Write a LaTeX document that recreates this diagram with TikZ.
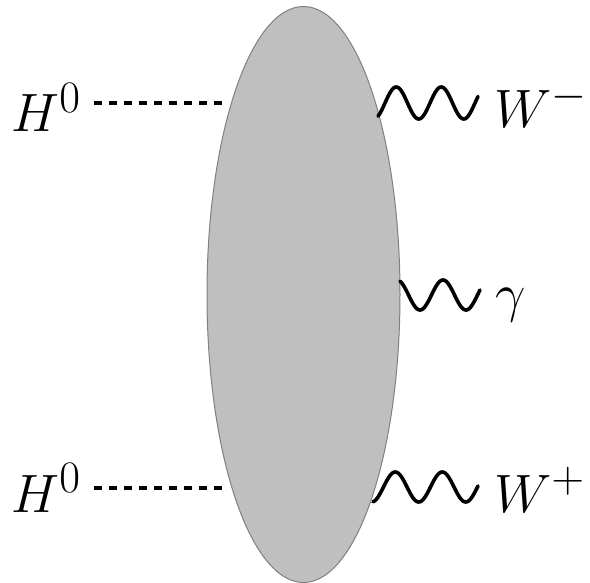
\documentclass[tikz,border=0pt]{standalone}
\usetikzlibrary{shapes.geometric}
\begin{document}
\begin{tikzpicture}[x=1pt,y=-1pt,
  lbl/.style={inner sep=0pt, anchor=base west, font=\Huge, scale=2.17},
  scalar/.style={line width=4.5pt, dash pattern=on 8pt off 7pt},
  wave/.style={line width=3.6pt, line cap=round, line join=round},
  blobstyle/.style={ellipse, draw=gray, line width=1pt, fill=gray!50, inner sep=0pt, minimum width=193pt, minimum height=576pt}]
\useasboundingbox (0,0) rectangle (590,583);
\node[blobstyle] (blob) at (303.5,294.5) {};
% labels
\node[lbl] (h1) at (11,132) {$H^0$};
\node[lbl] (h2) at (11,512) {$H^0$};
\node[lbl] (wm) at (494,128) {$W^-$};
\node[lbl] (ga) at (495,312) {$\gamma$};
\node[lbl] (wp) at (494,512) {$W^+$};
% scalar lines
\coordinate (d1) at (94,103);
\coordinate (e1) at (228,103);
\coordinate (d2) at (94,488);
\coordinate (e2) at (228,488);
\draw[scalar] (d1) -- (e1);
\draw[scalar] (d2) -- (e2);
% wavy lines
\draw[wave] plot[domain=378:478, samples=100] (\x, {103 - 16*sin(8*(\x-385))});
\draw[wave] plot[domain=400:480, samples=100] (\x, {295 - 15*sin(7.826*(\x-385.5))});
\draw[wave] plot[domain=373:478, samples=100] (\x, {487 - 15*sin(7.66*(\x-383.5))});
\end{tikzpicture}
\end{document}
